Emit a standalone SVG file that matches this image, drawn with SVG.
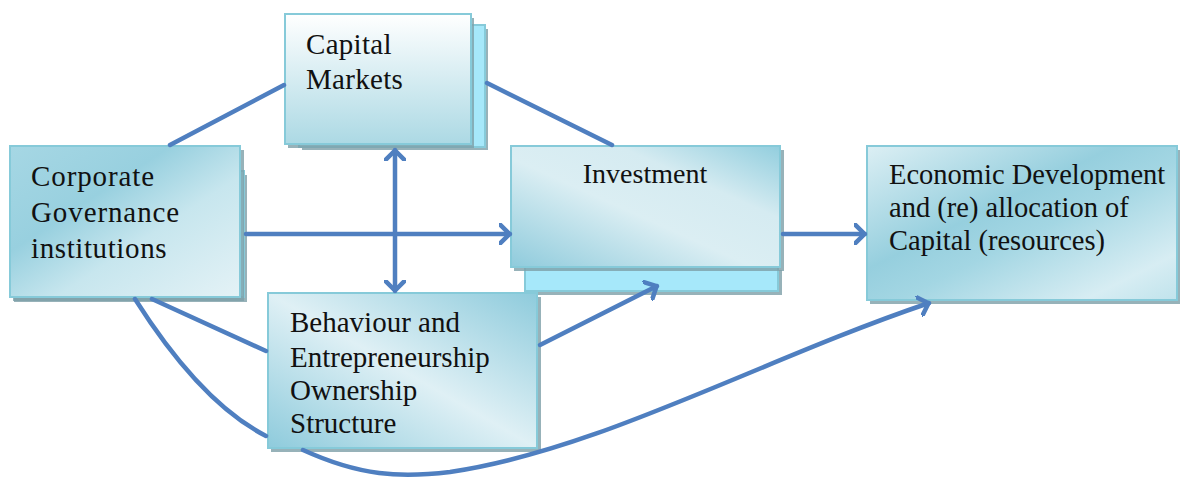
<svg xmlns="http://www.w3.org/2000/svg" width="1180" height="477" viewBox="0 0 1180 477">
<defs>
<style>
.box{stroke:#86cad9;stroke-width:2}
.back{fill:#a6e8fa;stroke:#86cad9;stroke-width:2}
.shadow{fill:#7d9fa8;opacity:0.8}
.con{fill:none;stroke:#4f7fc0;stroke-width:4.5;stroke-linecap:round}
</style>
<linearGradient id="gCap" x1="0" y1="0" x2="0" y2="1">
<stop offset="0" stop-color="#ffffff"/>
<stop offset="1" stop-color="#acd9e4"/>
</linearGradient>
<linearGradient id="gCorp" x1="0" y1="0" x2="1" y2="1">
<stop offset="0" stop-color="#a6d7e4"/>
<stop offset="0.35" stop-color="#98d0df"/>
<stop offset="0.6" stop-color="#c7e6ee"/>
<stop offset="1" stop-color="#e4f2f6"/>
</linearGradient>
<linearGradient id="gInv" x1="0" y1="1" x2="1" y2="0">
<stop offset="0" stop-color="#8fcbdc"/>
<stop offset="0.45" stop-color="#dbeef3"/>
<stop offset="0.7" stop-color="#d5ebf1"/>
<stop offset="1" stop-color="#92cede"/>
</linearGradient>
<linearGradient id="gEco" x1="0" y1="0" x2="1" y2="1">
<stop offset="0" stop-color="#dceff4"/>
<stop offset="0.4" stop-color="#96cfde"/>
<stop offset="0.55" stop-color="#a3d6e3"/>
<stop offset="0.85" stop-color="#d7edf3"/>
<stop offset="1" stop-color="#c0e3ec"/>
</linearGradient>
<linearGradient id="gBeh" x1="0" y1="1" x2="1" y2="0">
<stop offset="0" stop-color="#8ecbdc"/>
<stop offset="0.5" stop-color="#dff0f5"/>
<stop offset="1" stop-color="#8ecbdc"/>
</linearGradient>
<marker id="arr" viewBox="0 0 12 22" refX="11" refY="11" markerWidth="12" markerHeight="22" markerUnits="userSpaceOnUse" orient="auto-start-reverse">
<path d="M1,1.5 L10.5,11 L1,20.5" fill="none" stroke="#4f7fc0" stroke-width="4.5" stroke-linecap="round" stroke-linejoin="round"/>
</marker>
</defs>

<g id="capital-markets">
<rect class="shadow" x="302" y="29" width="186" height="121"/>
<rect class="back" x="299" y="25" width="186" height="122"/>
<rect class="shadow" x="288" y="18" width="186" height="130"/>
<rect class="box" fill="url(#gCap)" x="285" y="14" width="186" height="130"/>
<text font-family="Liberation Serif" fill="#111" font-size="29" x="306" y="54" letter-spacing="0.3">Capital</text>
<text font-family="Liberation Serif" fill="#111" font-size="29" x="306" y="89" letter-spacing="0.3">Markets</text>
</g>

<g id="corporate-governance">
<rect class="shadow" x="14" y="175" width="233" height="127"/>
<rect class="back" x="12" y="171" width="232" height="126"/>
<rect class="shadow" x="13" y="150" width="231" height="151"/>
<rect class="box" fill="url(#gCorp)" x="10" y="146" width="230" height="151"/>
<text font-family="Liberation Serif" fill="#111" font-size="29" x="31" y="186" letter-spacing="0.9">Corporate</text>
<text font-family="Liberation Serif" fill="#111" font-size="29" x="31" y="222" letter-spacing="0.9">Governance</text>
<text font-family="Liberation Serif" fill="#111" font-size="29" x="31" y="258" letter-spacing="0.6">institutions</text>
</g>

<g id="investment">
<rect class="shadow" x="528" y="270" width="254" height="25"/>
<rect class="back" x="525" y="266" width="253" height="25"/>
<rect class="shadow" x="514" y="150" width="270" height="121"/>
<rect class="box" fill="url(#gInv)" x="511" y="146" width="269" height="121"/>
<text font-family="Liberation Serif" fill="#111" font-size="28" x="645" y="183" text-anchor="middle">Investment</text>
</g>

<g id="economic-development">
<rect class="shadow" x="870" y="150" width="310" height="154"/>
<rect class="box" fill="url(#gEco)" x="867" y="146" width="310" height="154"/>
<text font-family="Liberation Serif" fill="#111" font-size="28.5" x="889" y="184">Economic Development</text>
<text font-family="Liberation Serif" fill="#111" font-size="28.5" x="889" y="217">and (re) allocation of</text>
<text font-family="Liberation Serif" fill="#111" font-size="28.5" x="889" y="250">Capital (resources)</text>
</g>

<g id="behaviour-ownership">
<rect class="shadow" x="271" y="297" width="270" height="155"/>
<rect class="box" fill="url(#gBeh)" x="268" y="293" width="269" height="155"/>
<text font-family="Liberation Serif" fill="#111" font-size="29" x="290" y="332">Behaviour and</text>
<text font-family="Liberation Serif" fill="#111" font-size="29" x="290" y="367">Entrepreneurship</text>
<text font-family="Liberation Serif" fill="#111" font-size="29" x="290" y="400">Ownership</text>
<text font-family="Liberation Serif" fill="#111" font-size="29" x="290" y="433">Structure</text>
</g>

<g id="connectors">
<path class="con" d="M170,145 L284,85"/>
<path class="con" d="M487,83 L612,145"/>
<path class="con" d="M152,299 L266,351"/>
<path class="con" d="M135,299 C180,370 225,415 266,436"/>
<path class="con" d="M303,450 C360,476 400,478 450,472 C600,450 760,360 929,303" marker-end="url(#arr)"/>
<path class="con" d="M246,234 L510,234" marker-end="url(#arr)"/>
<path class="con" d="M395,150 L395,291" marker-start="url(#arr)" marker-end="url(#arr)"/>
<path class="con" d="M540,345 L657,286" marker-end="url(#arr)"/>
<path class="con" d="M783,234 L865,234" marker-end="url(#arr)"/>
</g>
</svg>
